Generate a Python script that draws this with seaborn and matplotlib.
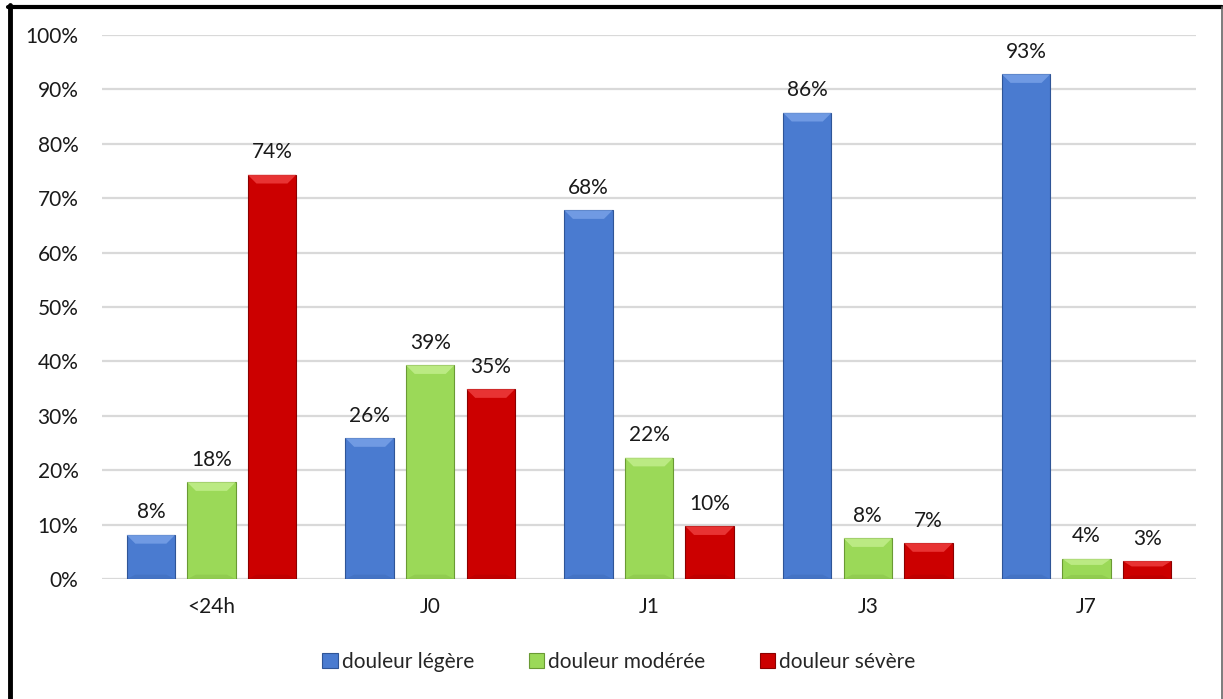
import numpy as np
import pandas as pd
import seaborn as sns
import matplotlib.pyplot as plt
from matplotlib.patches import Rectangle, Polygon
from matplotlib.lines import Line2D

#%% data
periods = ['<24h', 'J0', 'J1', 'J3', 'J7']
legere = [8.1, 25.9, 67.8, 85.7, 92.8]
moderee = [17.8, 39.3, 22.3, 7.5, 3.7]
severe = [74.3, 34.9, 9.7, 6.6, 3.3]
series = ['douleur légère', 'douleur modérée', 'douleur sévère']
colors = ['#4a7bd0', '#9bd958', '#cc0000']
edges = ['#2f5597', '#6a9a34', '#8b0000']
tops = ['#7aa3e8', '#c4ef8e', '#f04040']

df = pd.DataFrame({'period': periods * 3,
                   'value': legere + moderee + severe,
                   'series': np.repeat(series, len(periods))})

#%% plot settings
sns.set_style('white')
plt.rcParams['font.family'] = ['Lato', 'DejaVu Sans']
fs = 15

fig = plt.figure(figsize=(12.23, 6.99), dpi=100)
W, H = 1223, 699
ax = fig.add_axes([102 / W, 1 - 579 / H, (1196 - 102) / W, (579 - 35) / H])

sns.barplot(data=df, x='period', y='value', hue='series', hue_order=series,
            palette=colors, width=0.83, gap=0.2, ax=ax, legend=False,
            saturation=1, edgecolor='none')

ax.set_ylim(0, 100)
ax.set_xlim(-0.5, 4.5)
ax.set_yticks(np.arange(0, 101, 10))
ax.set_yticklabels([f'{t}%' for t in range(0, 101, 10)], fontsize=fs, color='#1a1a1a')
ax.tick_params(axis='x', labelsize=fs, pad=13, length=0, colors='#1a1a1a')
ax.tick_params(axis='y', pad=17, length=0)
ax.set_xlabel('')
ax.set_ylabel('')
ax.yaxis.grid(True, color='#d9d9d9', lw=1.6)
ax.set_axisbelow(True)
for s in ax.spines.values():
    s.set_visible(False)

#%% bevel look + labels
for i, cont in enumerate(ax.containers):
    for bar in cont:
        x0, w, h = bar.get_x(), bar.get_width(), bar.get_height()
        bar.set_edgecolor(edges[i])
        bar.set_linewidth(0.8)
        b = min(1.6, h * 0.3)
        dx = w * 0.18
        ax.add_patch(Polygon([[x0, h], [x0 + w, h], [x0 + w - dx, h - b], [x0 + dx, h - b]],
                             closed=True, facecolor=tops[i], edgecolor='none', alpha=0.8, zorder=3))
        ax.add_patch(Polygon([[x0, 0], [x0 + w, 0], [x0 + w - dx, min(0.8, h * 0.2)], [x0 + dx, min(0.8, h * 0.2)]],
                             closed=True, facecolor=edges[i], edgecolor='none', alpha=0.2, zorder=3))
    ax.bar_label(cont, labels=[f'{v:.0f}%' for v in cont.datavalues], padding=9,
                 fontsize=fs, color='#1a1a1a')

#%% legend
handles = [Rectangle((0, 0), 1, 1, facecolor=c, edgecolor=e, lw=0.8) for c, e in zip(colors, edges)]
fig.legend(handles, series, loc='center', bbox_to_anchor=(619 / W, 1 - 662 / H), ncol=3,
           frameon=False, fontsize=fs, handlelength=0.75, handleheight=0.75,
           handletextpad=0.2, columnspacing=2.6)

#%% frame
fig.add_artist(Line2D([9.5 / W, 9.5 / W], [0, 1 - 5 / H], color='black', lw=3.5, transform=fig.transFigure))
fig.add_artist(Line2D([7.5 / W, 1222 / W], [1 - 7 / H, 1 - 7 / H], color='black', lw=3, transform=fig.transFigure))
fig.add_artist(Line2D([1221.5 / W, 1221.5 / W], [0, 1 - 7 / H], color='#666666', lw=1.2, transform=fig.transFigure))

fig.savefig('out.png', dpi=100)
